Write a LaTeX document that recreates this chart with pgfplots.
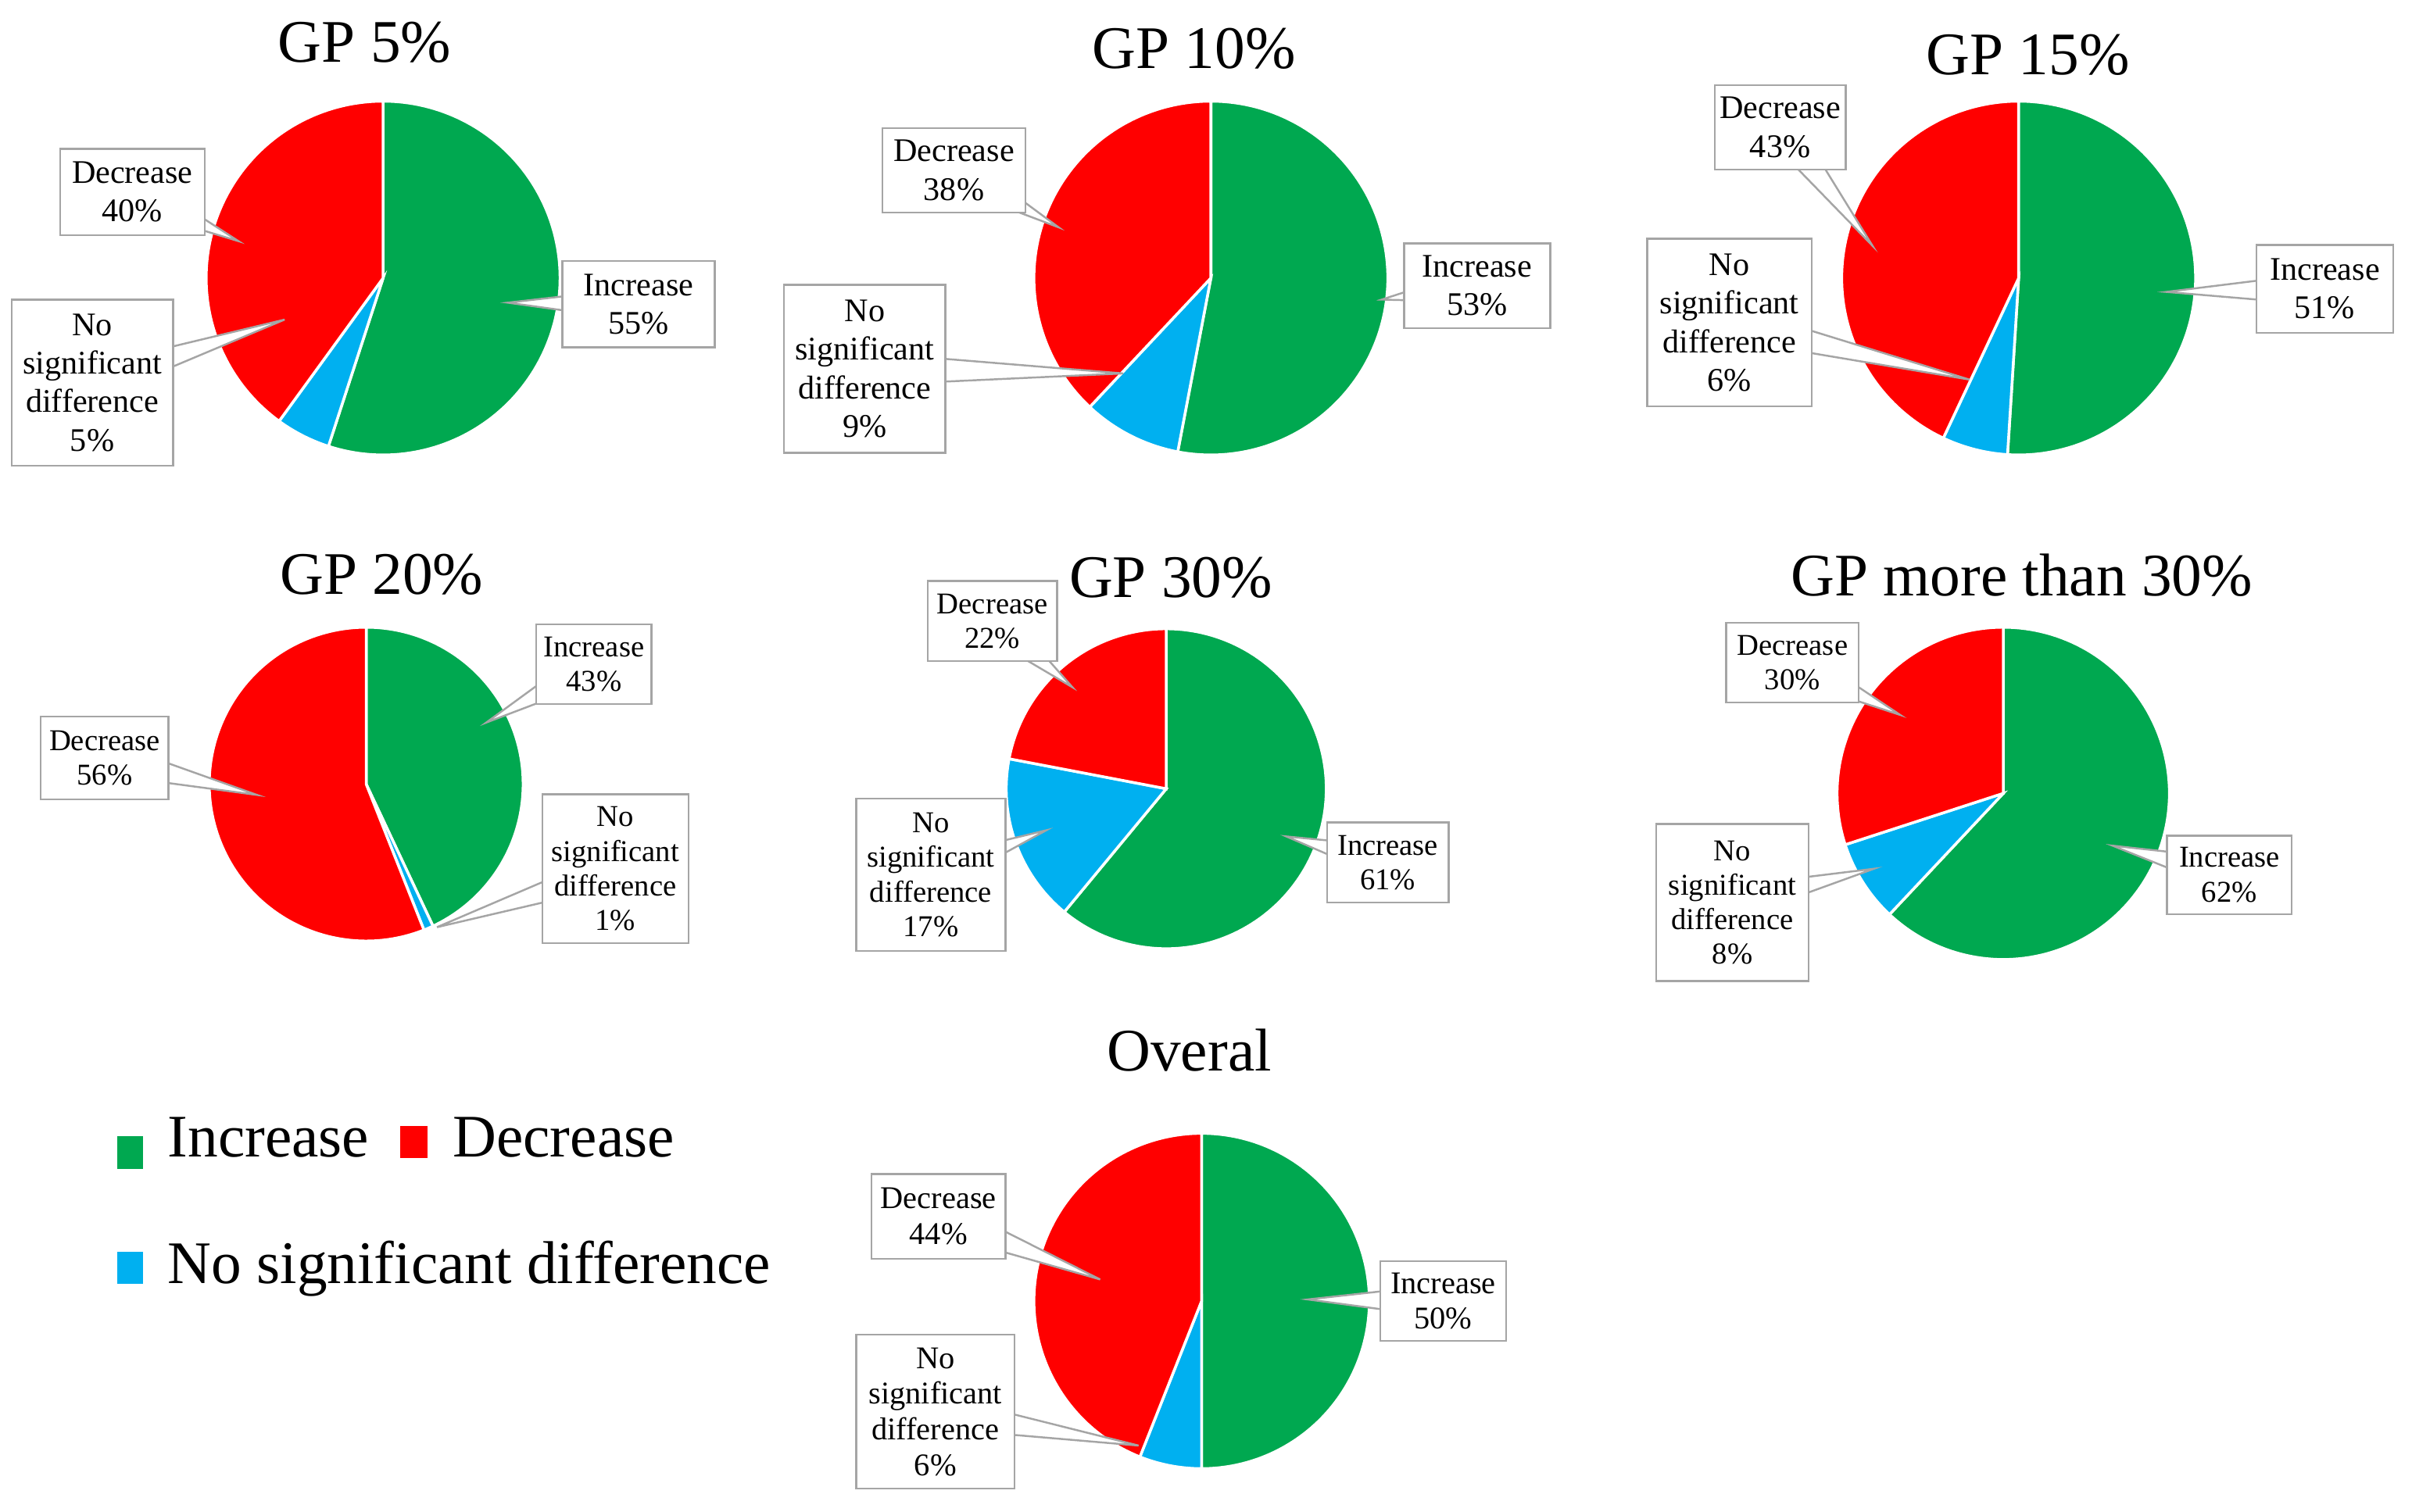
\documentclass[border=0pt]{standalone}
\usepackage{fontspec}
\setmainfont{Liberation Serif}
\usepackage{pgfplots}
\pgfplotsset{compat=1.18}
\usetikzlibrary{calc}
\definecolor{grn}{RGB}{0,168,80}
\definecolor{rd}{RGB}{255,0,0}
\definecolor{bl}{RGB}{0,176,240}
\definecolor{bxc}{RGB}{165,165,165}

% named coordinate from reference (display) pixel units
\newcommand{\pp}[3]{\pgfmathsetmacro\tmpx{(#2)*0.01968}\pgfmathsetmacro\tmpy{(983-(#3))*0.01968}\coordinate (#1) at (\tmpx,\tmpy);}

% cx cy r increase nsd decrease
\newcommand{\pie}[6]{%
 \pgfmathsetmacro\aA{90}%
 \pgfmathsetmacro\aB{90-3.6*#4}%
 \pgfmathsetmacro\aC{90-3.6*(#4+#5)}%
 \pgfmathsetmacro\aD{90-3.6*(#4+#5+#6)}%
 \pgfmathsetmacro\px{#1*0.01968}%
 \pgfmathsetmacro\py{(983-#2)*0.01968}%
 \pgfmathsetlengthmacro\pw{2*#3*0.01968cm}%
 \begin{axis}[at={(\px cm,\py cm)}, anchor=center, scale only axis, width=\pw, height=\pw,
   hide axis, xmin=-1, xmax=1, ymin=-1, ymax=1, clip=false]
 \addplot[fill=grn, draw=white, line width=1pt, domain=\aB:\aA, samples=120, variable=\t] ({cos(\t)},{sin(\t)}) -- (axis cs:0,0) -- cycle;
 \addplot[fill=bl, draw=white, line width=1pt, domain=\aC:\aB, samples=60, variable=\t] ({cos(\t)},{sin(\t)}) -- (axis cs:0,0) -- cycle;
 \addplot[fill=rd, draw=white, line width=1pt, domain=\aD:\aC, samples=120, variable=\t] ({cos(\t)},{sin(\t)}) -- (axis cs:0,0) -- cycle;
 \end{axis}}

\def\lf{\fontsize{12}{14}\selectfont}
% box cx cy w h tipx tipy text
\newcommand{\lbl}[7]{%
 \pp{lb}{#1}{#2}
 \pp{lt}{#5}{#6}
 \filldraw[fill=white, draw=bxc, line width=0.7pt] ($(lb)!6pt!90:(lt)$) -- (lt) -- ($(lb)!6pt!-90:(lt)$);
 \node[draw=bxc, fill=white, line width=0.7pt, align=center, inner sep=0pt, font=\lf,
   minimum width={#3*0.01968cm}, minimum height={#4*0.01968cm}] at (lb) {#7};}

\newcommand{\ttl}[3]{\pp{tt}{#1}{#2}\node[inner sep=0pt, font=\fontsize{22}{26}\selectfont] at (tt) {#3};}

\begin{document}
\begin{tikzpicture}
\useasboundingbox[fill=white] (0,0) rectangle (30.858,19.345);

% ---- pies ----
\pie{249}{181}{115}{55}{5}{40}
\pie{787}{181}{115}{53}{9}{38}
\pie{1312}{181}{115}{51}{6}{43}
\pie{238}{510}{102}{43}{1}{56}
\pie{758}{513}{104}{61}{17}{22}
\pie{1302}{516}{108}{62}{8}{30}
\pie{781}{846}{109}{50}{6}{44}

% ---- titles ----
\ttl{237}{28}{GP 5\%}
\ttl{776}{32}{GP 10\%}
\ttl{1318}{36}{GP 15\%}
\ttl{248}{374}{GP 20\%}
\ttl{761}{376}{GP 30\%}
\ttl{1314}{374}{GP more than 30\%}
\ttl{773}{683}{Overal}

% ---- labels row 1 ----
\def\lf{\fontsize{12}{14}\selectfont}
\lbl{86}{125}{94}{56}{155}{157}{Decrease\\40\%}
\lbl{415}{198}{99}{56}{330}{197}{Increase\\55\%}
\lbl{60}{249}{105}{108}{185}{208}{No\\significant\\difference\\5\%}

\lbl{620}{111}{93}{55}{688}{148}{Decrease\\38\%}
\lbl{960}{186}{95}{55}{898}{195}{Increase\\53\%}
\lbl{562}{240}{105}{109}{730}{243}{No\\significant\\difference\\9\%}

\lbl{1157}{83}{85}{55}{1217}{160}{Decrease\\43\%}
\lbl{1511}{188}{89}{57}{1408}{190}{Increase\\51\%}
\lbl{1124}{210}{107}{109}{1280}{247}{No\\significant\\difference\\6\%}

% ---- labels row 2 ----
\def\lf{\fontsize{11}{12.6}\selectfont}
\lbl{386}{432}{75}{52}{316}{470}{Increase\\43\%}
\lbl{68}{493}{83}{54}{167}{517}{Decrease\\56\%}
\lbl{400}{565}{95}{97}{284}{603}{No\\significant\\difference\\1\%}

\lbl{645}{404}{84}{52}{697}{447}{Decrease\\22\%}
\lbl{902}{561}{79}{52}{836}{544}{Increase\\61\%}
\lbl{605}{569}{97}{99}{680}{540}{No\\significant\\difference\\17\%}

\lbl{1165}{431}{86}{52}{1235}{465}{Decrease\\30\%}
\lbl{1449}{569}{81}{51}{1373}{550}{Increase\\62\%}
\lbl{1126}{587}{99}{102}{1218}{565}{No\\significant\\difference\\8\%}

% ---- labels overall ----
\def\lf{\fontsize{11.5}{13}\selectfont}
\lbl{610}{791}{87}{55}{715}{832}{Decrease\\44\%}
\lbl{938}{846}{82}{52}{850}{845}{Increase\\50\%}
\lbl{608}{918}{103}{100}{740}{940}{No\\significant\\difference\\6\%}

% ---- legend ----
\pp{g1}{76}{739}\pp{g2}{93}{760}\fill[grn] (g1) rectangle (g2);
\pp{r1}{260}{732}\pp{r2}{278}{753}\fill[rd] (r1) rectangle (r2);
\pp{b1}{76}{814}\pp{b2}{93}{835}\fill[bl] (b1) rectangle (b2);
\pp{t1}{108.7}{752.5}\node[anchor=base west, inner sep=0pt, font=\fontsize{22}{26}\selectfont] at (t1) {Increase};
\pp{t2}{294}{752.5}\node[anchor=base west, inner sep=0pt, font=\fontsize{22}{26}\selectfont] at (t2) {Decrease};
\pp{t3}{108.7}{834.8}\node[anchor=base west, inner sep=0pt, font=\fontsize{22}{26}\selectfont] at (t3) {No significant difference};
\end{tikzpicture}
\end{document}
